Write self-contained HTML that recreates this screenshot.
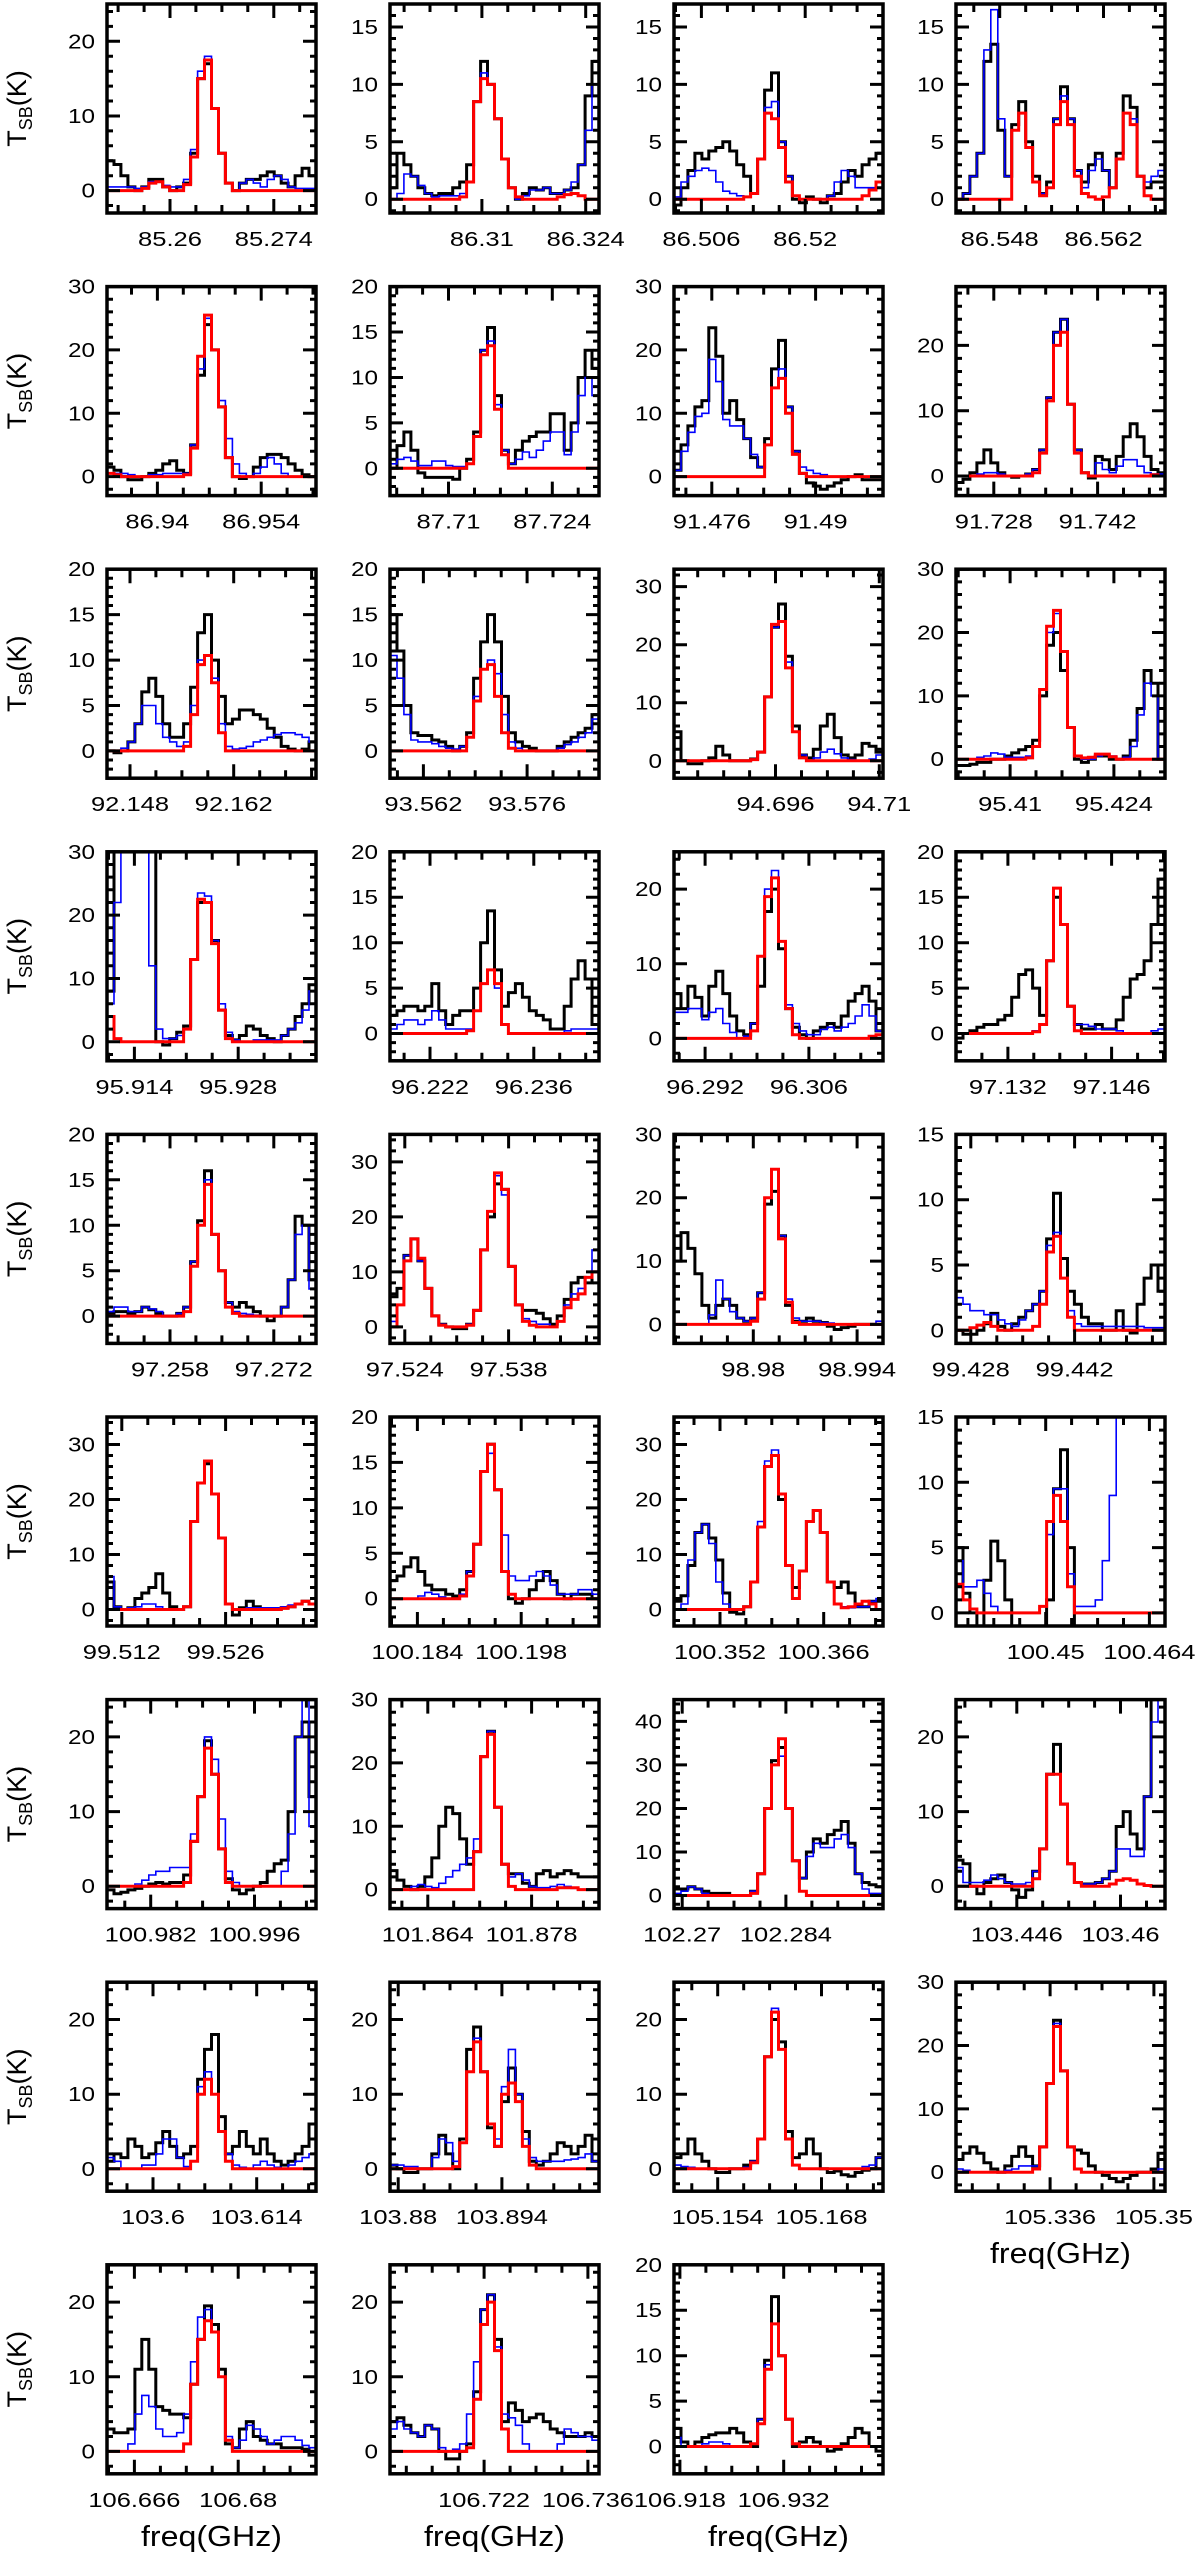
<!DOCTYPE html>
<html><head><meta charset="utf-8"><style>
html,body{margin:0;padding:0;background:#fff;}
svg{display:block;font-family:"Liberation Sans",sans-serif;}
</style></head><body>
<svg id="fig" xmlns="http://www.w3.org/2000/svg" width="1200" height="2561" viewBox="0 0 1200 2561"></svg>
<script>
// ---------- data ----------
const xLow=[85.2515,86.2976,86.5023,86.5421,86.9332,87.7021,91.4709,91.7229,92.1449,93.5575,94.6823,95.4027,95.9103,96.2166,96.2878,97.1250,97.2495,97.5220,98.9693,99.4260,99.5100,100.1803,100.3458,100.4379,100.9761,101.8589,102.2689,103.4378,103.5938,103.8789,105.1481,105.3233,106.6623,106.7093,106.9172];
const tick1=["85.26","86.31","86.506","86.548","86.94","87.71","91.476","91.728","92.148","93.562","94.696","95.41","95.914","96.222","96.292","97.132","97.258","97.524","98.98","99.428","99.512","100.184","100.352","100.45","100.982","101.864","102.27","103.446","103.6","103.88","105.154","105.336","106.666","106.722","106.918"];
const tick2=["85.274","86.324","86.52","86.562","86.954","87.724","91.49","91.742","92.162","93.576","94.71","95.424","95.928","96.236","96.306","97.146","97.272","97.538","98.994","99.442","99.526","100.198","100.366","100.464","100.996","101.878","102.284","103.46","103.614","103.894","105.168","105.35","106.68","106.736","106.932"];
const yMin=[-3,-1.2,-1.2,-1.2,-3,-3,-3,-3,-3,-3,-3,-3,-3,-3,-3,-3,-3,-3,-3,-1,-3,-3,-3,-1,-3,-3,-3,-3,-3,-3,-3,-3,-3,-3,-3];
const yMax=[25,17,17,17,30,20,30,29,20,20,33,30,30,20,25,20,20,35,30,15,35,20,35,15,25,30,45,25,25,25,25,30,25,25,20];
const yStep=[10,5,5,5,10,5,10,10,5,5,10,10,10,5,10,5,5,10,10,5,10,5,10,5,10,10,10,10,10,10,10,10,10,10,5];
const black=[
[4,3.5,2,0.5,0,0.5,1.5,1.5,0.5,0,0.5,1,5,15,17,11,5,1,0,1,1.5,1.5,2,2.5,2,1,0.5,2,3,2],
[1,4,3,2,1,0.5,0.3,0.5,0.5,1,1.5,3,8.5,12,10,7,3.5,1,0,0.5,1,0.8,1,0.5,0.5,0.8,1,3,9,12],
[-0.5,1,2.5,4,3.5,4.2,4.5,5,4.2,3,2,0.5,3.5,9.5,11,5,2,0,-0.3,0.2,0,-0.3,0.3,0.5,1.5,2.5,2,3,3.5,4],
[0,0.5,2,4,12,13.5,6,2,6.5,8.5,5,2,0.5,1.5,7,9.8,7,2.5,1.5,3,4,2.5,1,4,9,8,2,1,1.5,1.5],
[1.5,1,0,-0.5,-0.5,0,0.5,1,2,2.5,1,0.5,5,16,24,20,11,3,0,-0.3,0,1.5,3,3.5,3.5,3,2,1,0.3,0],
[0,2.5,4,2,-0.5,-1,-1,-1,-1,-1.2,0,1,4,13,15.5,8,2,0.5,2,3,3.5,4,4,6,6,2,5,10,13,11],
[1,5,8,11,12,23.5,19,10,12,9,6,3,1.5,6,17,21.5,11,4,0.5,-1,-1.5,-2,-1.5,-1,-0.5,0,0.3,-0.5,-0.5,-0.5],
[-1,-0.5,0.5,2,4,2,0.5,0,-0.2,0,0.3,1,4,12,22,24,11,4,0.5,-0.3,3,2.5,1,3,6,8,6,3,1,0.5],
[0,-0.2,0,1,3,6.5,8,6,3,1.5,1.5,3,7,13,15,10,6,3,3.5,4.5,4.5,4,3.5,2.5,1.5,0.5,0.2,0,0.2,1],
[15,11,5,2,1.7,1.7,1.2,1,0.5,0,0.5,2,8,12,15,12,6,2,1,0.5,0.3,0,0,0,0.5,1,1.5,2,2.5,4],
[5,0,-0.5,-0.5,0,0.5,2.5,1,0,0,0,0.3,1.5,11,23,27,18,6,1,0.5,2,6,8,4,1,0.5,1,3,2.5,1.5],
[-1,-1,-0.8,-0.5,-0.5,0,0,0.5,1,1.5,2,3,10,18,20,14,5,0,-0.5,0,0.5,0.5,0,0,0.5,3,8,14,12,0],
[8,40,40,40,40,40,40,0,-0.5,0.5,1.5,2.5,13,22,22,16,5,1,0.3,1,2.5,2,1,0.5,0,1,2,4,6,9],
[2,2.5,3,3,2.5,3,5.5,2.5,1,2,2.5,2.5,5,10,13.5,7,3,4.5,5.5,4,2.5,2,1.5,0.5,0.5,3,6,8,6,1],
[6,4,7,5.5,3,7,9,6,3,1,0.5,2,7,17,20,12,4,1.5,0.5,0,1,1.5,2,1.5,3,5,6,7,5,1],
[-0.5,0,0.3,0.7,1,1,1.5,2,4,6.5,7,5,2,8,15,12,3,1,0.5,0.5,1,0.5,0.5,1.5,4,6,6.5,8,12,17],
[0.3,0.5,0.5,0.3,0.5,1,0.7,0.3,0,0,0.3,1,6,10.5,16,9,5,1.5,1,1.5,1,0.5,0,-0.5,0,1,4,11,10,4],
[5.5,7,13,16,12,7,2,0.5,0,-0.3,-0.3,0.5,3,14,20,26,25,11,4,3,3,2.5,1.5,0.5,2,5,8,9,8,10],
[10,14.5,12,8,3,1,3,4,3,1,0.5,1,5,19,21,14,3,0.5,0.5,1,0.5,0.3,-0.3,-0.8,-0.5,-0.3,0,0,0,0],
[0,-0.3,-0.3,0,0.5,1.3,0.3,0,0.5,1,1.5,2,3,7,10.5,5.5,3,2,1,0.5,0.5,0,0,1.5,0,-0.2,2,4,5,3],
[5,0.5,0,0.3,2,3,4,6.5,3,0.5,0,0.5,16,23,26.5,21,13,1,-1,0.3,1.5,0.5,0,0,0,0.3,0.5,1,1.5,1],
[2,2.5,3.5,4.5,3,1.5,1,1,0.5,0.3,1,3,6,14,17,12,3,0,-0.5,0,1,2,3,2,0.5,0,0.5,0.5,0.5,0],
[1.5,2.5,8,14,15.5,13,9,3,-0.5,-0.8,0.5,5,15,26,28,20,8,4,7,16,18,14,5,4,5,3,0.5,0.5,1.5,1.5],
[5,1.5,0,-1,2.5,5.5,4,1,-1,-1,-1.5,-1.5,-1,1,9.5,12.5,5,-3,-3,-3,-3,-3,-3,-3,-3,-3,-3,-3,-3,-3],
[-0.5,-1,-0.8,-0.5,-0.3,0,0.3,0.5,0.3,0.5,0.5,1.5,6,12,19.5,15,5,1,-0.5,-1,-0.5,0,0.5,2,3,3.5,10,20,22,12],
[3,1.5,0.5,0,0.5,2,5,10,13,12,8,4,6,21,25,13,4,2.5,2.5,1,0.5,2.5,3,2,2.5,3,2.5,2,2,2],
[1.5,1.5,2,1.5,1,0.5,0.5,0.5,0,0,0,1,5,20,31,34,20,8,4,10,13,12,14,15,17,12,5,3,2.5,2],
[3.5,3,0,-1,0.5,1,1.5,0.5,-0.5,-1.5,-0.5,2,5,15,19,11,3,0.5,0.3,0.3,0.5,1,2,8,10,7,5,12,25,30],
[1,2,1.5,4,3,1.5,2,3.5,5,3,1.5,2,3,12,16,18,7,2,3,5,3,2,4,2,1,0.5,1,2,3,6],
[0.5,0,-0.5,-0.5,0,0,2,4.5,2,0,4,16,19,13,5.5,3,9,13.5,10,5,1,0.5,1,2,3.5,3,2,3,4.5,1],
[1.5,2,4,2,1,0,-0.5,-0.5,0,0,0.5,1,4,15,20,17,5,1.5,2,4,2,0,-0.5,-0.3,-0.8,-1,-0.5,-0.2,0,1.5],
[2,3,4,3,1.5,0.5,0,1,2.5,4,2.5,1,4,14,24,16,4,3.5,3,1,0,-0.5,-1,-1.5,-1,-0.5,0,0,0.5,3],
[3,2.5,2.5,3,11,15,11,6,5.5,5,5,4.5,9,15,19.5,17,11,1,0.5,3,4,2,1.5,1,1,0.5,0.5,0.5,0.3,-0.5],
[4,4.5,3.5,2.5,2,3.5,3,0,-1,-1,0,1,8,19,21,15,4,6.5,5.5,4,4.5,5,4,3,2.5,2,2,2,2.5,2],
[2,0.5,0,0.5,1,1.3,1.5,1.5,2,1.5,0.5,0,3,9.5,16.5,10,3,0,0.5,1,0.5,0,-0.5,-0.3,0.3,1,2,1.5,0,-0.5]
];
const blue=[
[0.5,0.5,0.5,0.5,0.3,0.5,1.2,1.2,0.7,0.5,0.5,1.5,5.5,16,18,11,5,1,0,1,1.5,1,0.5,1.5,2,1.5,0.5,0.3,0.3,0.3],
[0,0.5,2.2,2,1.2,0.5,0.2,0.3,0.3,0.3,0.5,1.5,8.5,11,10,7,3.5,1,0,0.3,0.8,0.8,1,0.5,0.5,0.8,1.5,3,6,10],
[0.2,1.5,2,2.5,2.7,2.5,1.5,0.7,0.5,0.3,0.2,0.5,3.5,8,8.5,5,2,0.3,0,0,0,0,0.3,1.5,2.5,2,1,1,1,1.5],
[0,0.5,2,4,13,16.5,7,2,6,7.5,4.5,1.5,0.5,1,7,9,7,2.5,1,2.5,3.5,2.5,1,3.5,7.5,7,2,1.5,2,2.5],
[0.5,0.5,0.5,0.3,0,0,0.3,0.3,0.5,0.5,0.5,0.5,5,17,25,20,12,6,2,0.5,0,0.5,1.5,3,2,0.5,0,0,0,0],
[0.5,1,1.2,0.8,0.3,0.3,0.8,0.8,0.3,0.2,0.2,0.5,3.5,13,14,7,2,0.5,1,1.8,1.2,2,3,4,4,1.5,4,8,10,8],
[1,4,7,9.5,10,18.5,15,9,8,8,6,3.5,1.5,5,14,17,11,4,1.5,1,0.5,0.3,0,0,0,0,0,0,0,0],
[0,0,0,0.3,0.5,0.5,0.3,0,0,0,0.3,1,4,12,22,24,11,4,0.5,0,2,1,0.5,1.5,2.5,2.5,1.5,0.5,0.3,0.3],
[0,0,0.3,1,3,5,5,3,1.5,1,0.5,1,5,10,10.5,8,3,0.5,0.2,0.3,0.5,1,1.2,1.5,1.8,2,2,1.8,1.5,1],
[10.5,8,4,1.2,1,1,0.8,0.5,0.3,0.2,0.5,1.5,6,9,10,8.5,4,1,0.3,0,0,0,0,0,0.3,0.7,1,1.5,2,3.5],
[0,0,0,0,0,0,0,0,0,0,0,0.3,1.5,11,23,24,17,5,1,0,0.5,1.5,2,1.2,0.5,0.2,0,0,0.3,1],
[0,0,0,0.3,0.5,1,0.8,0.3,0.3,0.3,0.5,2,11,20,23,17,5,0.5,0,0,0.5,0.8,0.5,0,0.3,2,7,12,10,0],
[6,22,40,40,40,40,12,2,0.5,0.5,1,2,13,23.5,23,16,6,1.5,0.3,0,0,0.3,0.3,0.3,0.3,1,2,3,5,8],
[0.5,1,1.5,1.5,1,1.5,2.5,1.5,0.5,0.5,0.5,0.5,2.5,5.5,7,5,1,0,0,0,0,0,0,0,0,0.3,0.5,0.5,0.5,0.5],
[3.5,3.5,4,4,2.5,3.5,4,2,0.8,0,0.3,2,11,20,22.5,13,4.5,2,1,0.5,0.5,1.2,1.5,1,1.5,2,3,4.5,3,1],
[0,0,0,0,0,0,0,0,0,0,0,0.3,1,8,16,12,3,1,1,0.8,0.5,0.5,0.5,0.3,0,0,0,0,0.3,0.5],
[0.5,1,1,0.5,0.5,1,0.8,0.5,0,0,0.3,1,6,10,15,9,5,1.5,0.5,0.3,0.2,0.1,0,0,0,1,4,9,10,3],
[1,4,13,16,12,7,2,0.5,0,0,0,0.5,3,14,21,27.5,24,11,4,1.5,1,0.5,0.5,0,1,4,6,7,9,14],
[0,0,0,0,0,1.5,7,4,2,1,0.5,1,5,20,24.5,14,4,1,0.5,0.5,0.5,0.3,0.2,0,0,0,0,0,0,0.5],
[2.5,2,1.5,1.5,1.2,1.2,0.8,0.5,0.3,0.8,1.5,2,3,6.5,7.5,4,1.5,0.5,0.3,0.3,0.3,0.3,0.3,0.3,0.3,0.3,0.3,0.2,0.2,0.2],
[6,0.5,0,0.3,0.5,1,1,0.5,0,0,0,0.5,16,23,27,21,13,1,0,0,0.3,0.3,0.3,0.3,0.3,0.5,0.8,1,1.5,1],
[0,0,0,0,0.3,0.7,0.5,0.2,0,0,0.5,3,6,14,16,12,7,2.5,2,2,2.5,3,2.5,1.5,0.5,0.5,0.5,1,1,0.5],
[0,1,9,14,15.5,12,5,1,0,0,0.5,5,16,27,29,21,8,2,7,16,18,14,5,1,0.5,0.3,0.5,0.5,1.5,2],
[4,2,2,2.5,1.5,0.5,0,0,0,0,0,0,0.5,6,9.5,9.5,3,0.5,0.5,0.5,1,4,9,20,20,20,20,20,20,20],
[0,0,0,0,0.3,0.8,1.5,2,2,2.5,2.5,2.5,7,12,20,17,9,2,0.5,0,0,0,0,0,0,2,7,20,28,8],
[0,0,0,0.5,0.8,0.5,0.3,1,2,3,4,5,8,21,25,13,4,2,2.5,1.5,0.5,0.3,0.3,0.5,0.8,0.5,0.2,0,0,0],
[0.5,1,2,1.5,0.5,0,0,0,0,0,0,1,5,20,30,32,20,8,4,9,12,11,11,13,14,11,5,1.5,0.5,0.5],
[2.5,0.5,0.5,0.5,0.8,1.5,1,0.5,0.3,0.3,0.5,2,5,15,15,11,3,0.5,0.3,0.3,0.5,1,2,5,5,4,4,12,22,30],
[1.5,1,0,0,0,0.5,0.5,2,4,4,1.5,0.3,1,11,13,10,5,2,0.5,0.2,0,0.5,1,0.5,0.2,0,0.5,1,1.5,2],
[0.5,0.5,0.3,0.3,0,0,1.5,4,3.5,1,3.5,13,17.5,13,6,4,11,16,10,4,1.5,1,1,1,1,1.2,1.3,1.5,2,1],
[0.5,0.3,0.2,0,0,0,0,0,0,0,0.2,1,4,15,21.5,16,4,0.5,0,0,0,0,0,0,0,0,0,0.3,0.5,1.5],
[0.5,0.3,0,0,0,0,0,0.3,0.5,1,1,1,4,14,23.5,16,4,0.5,0,0,0,0,0,0,0,0,0,0,0,0.5],
[0,0,0,1,5,7.5,6,3,2,2,2.5,5,12,18,19,16,10,2,0.5,1.5,3.5,3,2,1,1.5,2,2,1.5,0.8,0.5],
[3,4,3,2.5,2,3.5,3,0.5,0,0.3,1,5,12,19,21,14,5,4.5,3.5,1,0,0,0,0,1,3,2.5,2,2,1.5],
[1,0,0,0,0.3,0.5,0.5,0.3,0,0,0,0.3,3,9,13.5,10,3,0.3,0,0,0,0,0,0,0,0,0,0,0,0]
];
const red=[
[0,0,0,0,0,0.3,1,1.2,0.5,0,0,0.8,4.5,15,17.5,11,5,1,0,0,0,0,0,0,0,0,0,0,0,0],
[0,0,0,0,0,0,0,0,0,0,0.2,1.5,8.5,10.5,10,7,3.5,1,0.2,0,0,0,0,0,0.2,0.4,0.5,0.3,0,0],
[0,0,0,0,0,0,0,0,0,0,0.2,0.5,3.5,7.5,7,4.5,1.5,0.3,0,0,0,0,0,0,0,0,0,0.3,0.8,1.5],
[0,0,0,0,0,0,0,0,6,7.5,4.5,1.5,0.3,1,6.5,8.5,6.5,2,0.5,0.2,0,0.2,1,3.5,7.5,6.5,2,0.3,0,0],
[0.5,0.3,0,0,0,0,0,0,0,0,0,0.3,4.5,19,25.5,20,11,3,0,0,0,0,0,0,0,0,0,0,0,0],
[0,0,0,0,0,0,0,0,0,0,0,0.5,3.5,12.5,13.5,6.5,1.5,0,0,0,0,0,0,0,0,0,0,0,0,0],
[0,0,0,0,0,0,0,0,0,0,0,0,0,5,14,15.5,10,3.5,0.5,0,0,0,0,0,0,0,0,0,0,0],
[0,0,0,0,0,0,0,0,0,0,0,0.5,3.5,11.5,20,22,11,3.5,0.5,0,0,0,0,0,0,0,0,0,0.2,0],
[0,0,0,0,0,0,0,0,0,0,0,0.5,4,9.5,10.5,7.5,2,0,0,0,0,0,0,0,0,0,0,0,0,0],
[0,0,0,0,0,0,0,0,0,0,0,1.5,5.5,9,9.5,6,2,0.3,0,0,0,0,0,0,0,0,0,0,0,0],
[0,0,0,0,0,0,0,0,0,0,0,0.2,1.5,11,23.5,24,16,5,0.5,0,0,0,0,0,0,0,0,0,0,0],
[0,0,0,0,0,0,0,0,0,0,0.2,2,11,21,23.5,17,5,0.5,0.2,0.3,0.8,0.8,0.4,0,0,0,0,0,0,0],
[4,0.5,0,0,0,0,0,0,0,0,0,2,13,22.5,22,15.5,5,0.5,0,0,0,0,0,0,0,0,0,0,0,0],
[0,0,0,0,0,0,0,0,0,0,0,0.3,2.5,5.5,7,5.5,1,0,0,0,0,0,0,0,0,0,0,0,0,0],
[0,0,0,0,0,0,0,0,0,0,0,1,11,19,21.5,13,4,0.5,0,0,0,0,0,0,0,0,0,0,0.3,0.5],
[0,0,0,0,0,0,0,0,0,0,0,0.2,1,8,16,12,3,0.3,0,0,0,0,0,0,0,0,0,0,0,0],
[0,0,0,0,0,0,0,0,0,0,0,0.5,5.5,10,14.5,9,5,1,0.3,0,0,0,0,0,0,0,0,0,0,0],
[0,4,12,16,12.5,7,2,0.3,0,0,0,0.3,3,14,21,28,25,11,4,1,0.3,0,0,0,1,3.5,5,6,9,10],
[0,0,0,0,0,0,0,0,0,0,0,0.5,4,20,24.5,13.5,3.5,0.3,0,0,0,0,0,0,0,0,0,0,0,0],
[0,0,0.2,0.4,0.6,0.3,0,0,0,0,0,0.3,2,6,7.2,4,1,0,0,0,0,0,0,0,0,0,0,0,0,0],
[0,0,0,0,0,0,0,0,0,0,0,0.5,16,23,27,21,13,1,0,0,0,0,0,0,0,0.2,0.5,1,1.5,1],
[0,0,0,0,0,0,0,0,0,0,0.3,2.5,6,14,17,12,3,0.5,0,0,0,0,0,0,0,0,0,0,0,0],
[0,0,0,0,0,0,0,0,0,0,0.5,5,15,26,28,21,8,2,7,16,18,14,5,1,0.3,0.5,1,1.5,1,0],
[2.2,1,0.3,0,0,0,0,0,0,0,0,0,0.5,7,9,7,2,0,0,0,0,0,0,0,0,0,0,0,0,0],
[0,0,0,0,0,0,0,0,0,0,0,0.5,6,12,18.5,15,5,0.5,0,0,0,0,0,0,0,0,0,0,0,0],
[0,0,0,0,0,0,0,0,0,0,0,0,6,21,24.5,13,4,0.5,0,0,0,0,0,0,0.3,0.3,0.3,0,0,0],
[0,0,0,0,0,0,0,0,0,0,0,0.5,5,20,30,36,20,8,1,0,0,0,0,0,0,0,0,0,0,0],
[0,0,0,0,0,0,0,0,0,0,0,1,5,15,15,11,3,0.5,0,0,0,0,0.3,0.8,1,0.8,0.3,0.1,0,0],
[0,0,0,0,0,0,0,0,0,0,0,0,1,10,12,10,5,1,0,0,0,0,0,0,0,0,0,0,0,0],
[0,0,0,0,0,0,0,0,0,0.3,3.5,13,17,13,6,3,10,11.5,9,3,0.5,0,0,0,0,0,0,0,0,0],
[0,0,0,0,0,0,0,0,0,0,0,0.8,4,15,21,16,4,0.5,0,0,0,0,0,0,0,0,0,0,0,0],
[0,0,0,0,0,0,0,0,0,0,0,0.5,4,14,23,16,4,0.5,0,0,0,0,0,0,0,0,0,0,0,0],
[0,0,0,0,0,0,0,0,0,0,0,1,9,15,17.5,16,10,1.5,0,0,0,0,0,0,0,0,0,0,0,0],
[0,0,0,0,0,0,0,0,0,0,0,0.5,7,17,20,13.5,3,0,0,0,0,0,0,0,0,0,0,0,0,0],
[0,0,0,0,0,0,0,0,0,0,0,0.3,2.5,8.5,13.5,10,3,0.3,0,0,0,0,0,0,0,0,0,0,0,0]
];
// ---------- layout ----------
const NS='http://www.w3.org/2000/svg';
const svg=document.getElementById('fig');
const colX=[107,390,674,956];
const PW=209, PH=209, SPAN=0.0282;
function rowY(r){return 4+282.6*r;}
function mk(tag,attrs,parent){const e=document.createElementNS(NS,tag);for(const k in attrs)e.setAttribute(k,attrs[k]);parent.appendChild(e);return e;}
function labelLen(s){let n=0;for(const ch of s)n+=(ch==='.')?8:14;return n;}

for(let i=0;i<xLow.length;i++){
  const r=Math.floor(i/4), c=i%4;
  const x0=colX[c], y0=rowY(r);
  const sx=f=>x0+(f-xLow[i])/SPAN*PW;
  const sy=v=>y0+PH-(v-yMin[i])/(yMax[i]-yMin[i])*PH;
  const g=mk('g',{},svg);
  
  
  const cp=mk('clipPath',{id:'cp'+i},g);
  mk('rect',{x:x0,y:y0,width:PW,height:PH},cp);
  const dg=mk('g',{'clip-path':'url(#cp'+i+')'},g);
  const series=[[black[i],'#000',3,'observed-spectrum'],[blue[i],'#0000ff',1.6,'model-spectrum-blue'],[red[i],'#ff0000',3,'fit-spectrum-red']];
  for(const [arr,col,w,name] of series){
    const N=arr.length; const dch=SPAN/N;
    let d='M'+sx(xLow[i]).toFixed(1)+' '+sy(arr[0]).toFixed(1);
    for(let k=0;k<N;k++){
      if(k>0) d+=' V'+sy(arr[k]).toFixed(1);
      d+=' H'+sx(xLow[i]+(k+1)*dch).toFixed(1);
    }
    const p=mk('path',{d:d,fill:'none',stroke:col,'stroke-width':w,'stroke-linejoin':'miter'},dg);
    
    
  }
  // ticks
  let td='';
  const st=yStep[i], mn=st/5;
  for(let v=Math.ceil(yMin[i]/mn)*mn; v<=yMax[i]+1e-9; v+=mn){
    const isMaj=Math.abs(v/st-Math.round(v/st))<1e-6;
    const L=isMaj?13:6, y=sy(v).toFixed(1);
    td+=`M${x0} ${y}h${L}M${x0+PW} ${y}h${-L}`;
  }
  const t1=parseFloat(tick1[i]), t2=parseFloat(tick2[i]);
  for(let f=t1-0.0035*8; f<=xLow[i]+SPAN; f+=0.0035){
    if(f<xLow[i]) continue;
    const isMaj=Math.abs(f-t1)<1e-6||Math.abs(f-t2)<1e-6;
    const L=isMaj?14:8, x=sx(f).toFixed(1);
    td+=`M${x} ${y0}v${L}M${x} ${y0+PH}v${-L}`;
  }
  const tk=mk('path',{d:td,stroke:'#000','stroke-width':3,fill:'none'},g);
  
  
  const fr=mk('rect',{x:x0,y:y0,width:PW,height:PH,fill:'none',stroke:'#000','stroke-width':3.5},g);
  
  
  // y tick labels
  for(let v=Math.ceil(yMin[i]/st)*st; v<=yMax[i]+1e-9; v+=st){
    const s=String(Math.round(v));
    const t=mk('text',{x:x0-12,y:(sy(v)+7).toFixed(1),'text-anchor':'end','font-size':20,textLength:s.length*13.5,lengthAdjust:'spacingAndGlyphs'},g);
    t.textContent=s;
    
    
  }
  // x tick labels
  for(const s of [tick1[i],tick2[i]]){
    const t=mk('text',{x:sx(parseFloat(s)).toFixed(1),y:y0+PH+33,'text-anchor':'middle','font-size':20,textLength:labelLen(s),lengthAdjust:'spacingAndGlyphs'},g);
    t.textContent=s;
    
    
  }
  // y axis title
  if(c===0){
    const t=mk('text',{transform:`translate(26,${(y0+PH/2).toFixed(1)}) rotate(-90)`,'text-anchor':'middle','font-size':27},g);
    t.innerHTML='T<tspan font-size="18" dy="6">SB</tspan><tspan dy="-6">(K)</tspan>';
    
    
  }
  // x axis title
  if(r===8 || (r===7 && c===3)){
    const t=mk('text',{x:x0+PW/2,y:y0+PH+72,'text-anchor':'middle','font-size':29,textLength:141,lengthAdjust:'spacingAndGlyphs'},g);
    t.textContent='freq(GHz)';
    
    
  }
}
</script>
</body></html>
